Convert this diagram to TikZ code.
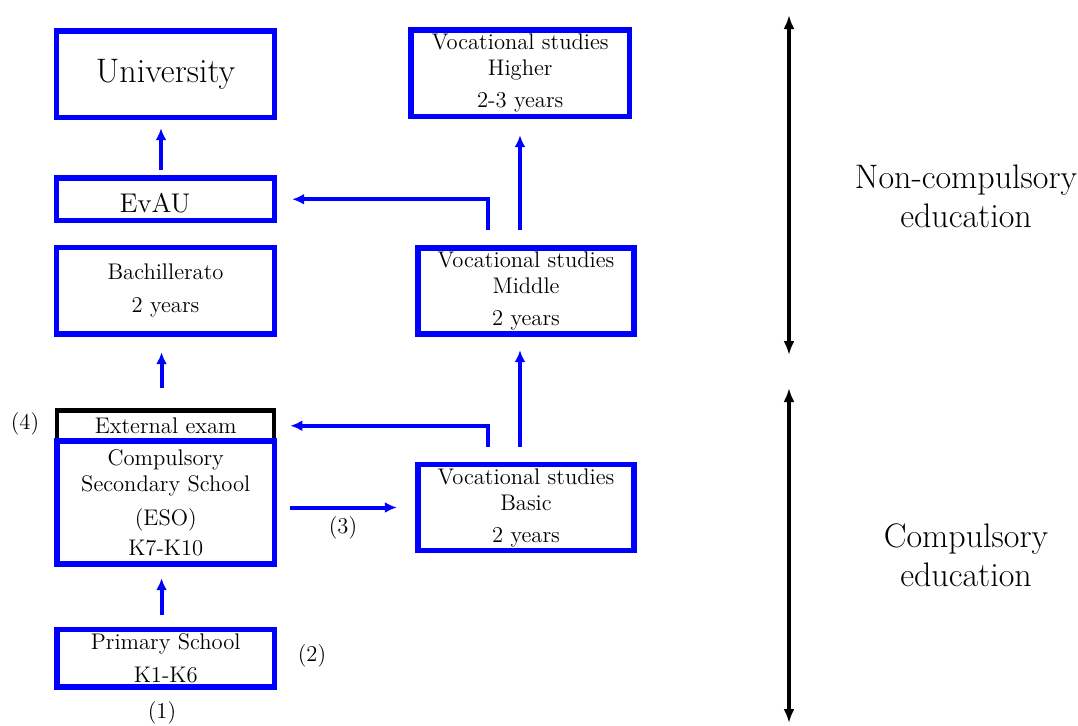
\documentclass[tikz,border=0pt]{standalone}
\usetikzlibrary{arrows.meta,calc}
\definecolor{bblue}{RGB}{0,0,255}
\begin{document}
\begin{tikzpicture}[x=0.5pt,y=-0.5pt,
  box/.style={draw=bblue,line width=2.7pt,align=center,inner sep=0pt,font=\fontsize{11.3}{13}\selectfont},
  arr/.style={draw=bblue,line width=2pt,-{Latex[length=6pt,width=5.5pt]}},
  barr/.style={draw=black,line width=2pt,{Latex[length=7pt,width=5.5pt]}-{Latex[length=7pt,width=5.5pt]}},
  lab/.style={font=\fontsize{11.3}{13}\selectfont},
  big/.style={font=\fontsize{17}{19.5}\selectfont,align=center}]
\useasboundingbox (0,0) rectangle (1078,725);
% left column
\node[box,minimum width=109pt,minimum height=43.25pt,font=\fontsize{17}{19}\selectfont] (univ) at (165.5,74.25) {University};
\node[box,minimum width=109pt,minimum height=21.25pt,font=\fontsize{13.5}{15}\selectfont] (evau) at (165.5,199.25) {\raisebox{-2pt}[\height][\depth]{EvAU}\hspace{10.5pt}};
\node[box,minimum width=109pt,minimum height=43.25pt] (bach) at (165.5,290.75) {Bachillerato\\[3.5pt]2 years};
\node[draw=black,line width=2.1pt,minimum width=108.5pt,minimum height=15.25pt,inner sep=0pt,font=\fontsize{11.3}{13}\selectfont] (exam) at (165.75,425.75) {External exam};
\node[box,minimum width=108.75pt,minimum height=61.5pt] (eso) at (165.75,502.5) {Compulsory\\Secondary School\\[4pt](ESO)\\[2pt]K7-K10};
\node[box,minimum width=108.75pt,minimum height=28.75pt] (prim) at (165.75,658.25) {Primary School\\[3.5pt]K1-K6};
% right column
\node[box,minimum width=109.25pt,minimum height=43.25pt] (high) at (520.25,73.25) {Vocational studies\\Higher\\[3pt]2-3 years};
\node[box,minimum width=108pt,minimum height=43pt] (mid) at (526,291) {Vocational studies\\Middle\\[3pt]2 years};
\node[box,minimum width=108pt,minimum height=43pt] (basic) at (526,507.5) {Vocational studies\\Basic\\[3pt]2 years};
% arrows
\draw[arr,shorten <=2.9pt,shorten >=4pt] ([xshift=-2.25pt]evau.north) -- ([xshift=-2.25pt]univ.south);
\draw[arr,shorten <=10pt,shorten >=7.75pt] ([xshift=-2.1pt]exam.north) -- ([xshift=-2.1pt]exam.north |- bach.south);
\draw[arr,shorten <=6pt,shorten >=5.75pt] ([xshift=-2.1pt]prim.north) -- ([xshift=-2.1pt]prim.north |- eso.south);
\draw[arr,shorten <=6.5pt,shorten >=9.25pt] (eso.east |- basic.west) -- (basic.west);
\draw[arr,shorten <=7.75pt,shorten >=8pt] ([xshift=-3pt]mid.north) -- ([xshift=-3pt]mid.north |- high.south);
\draw[arr,shorten >=7.5pt] ([xshift=-19pt,yshift=7.75pt]mid.north) |- (evau.east);
\draw[arr,shorten <=7.5pt,shorten >=6.75pt] ([xshift=-3pt]basic.north) -- ([xshift=-3pt]basic.north |- mid.south);
\draw[arr,shorten >=7pt] ([xshift=-19pt,yshift=7.5pt]basic.north) |- (exam.east);
% labels
\node[lab] (l3) at (343,528) {(3)};
\node[lab] (l4) at (25,424) {(4)};
\node[lab] (l2) at (312,656) {(2)};
\node[lab] (l1) at (162,713) {(1)};
% right side
\coordinate (a1) at (789,15);
\coordinate (a2) at (789,355);
\coordinate (b1) at (789,388);
\coordinate (b2) at (789,723);
\draw[barr] (a1) -- (a2);
\draw[barr] (b1) -- (b2);
\node[big] (nc) at (966,196) {Non-compulsory\\education};
\node[big] (ce) at (966,555) {Compulsory\\education};
\end{tikzpicture}
\end{document}
